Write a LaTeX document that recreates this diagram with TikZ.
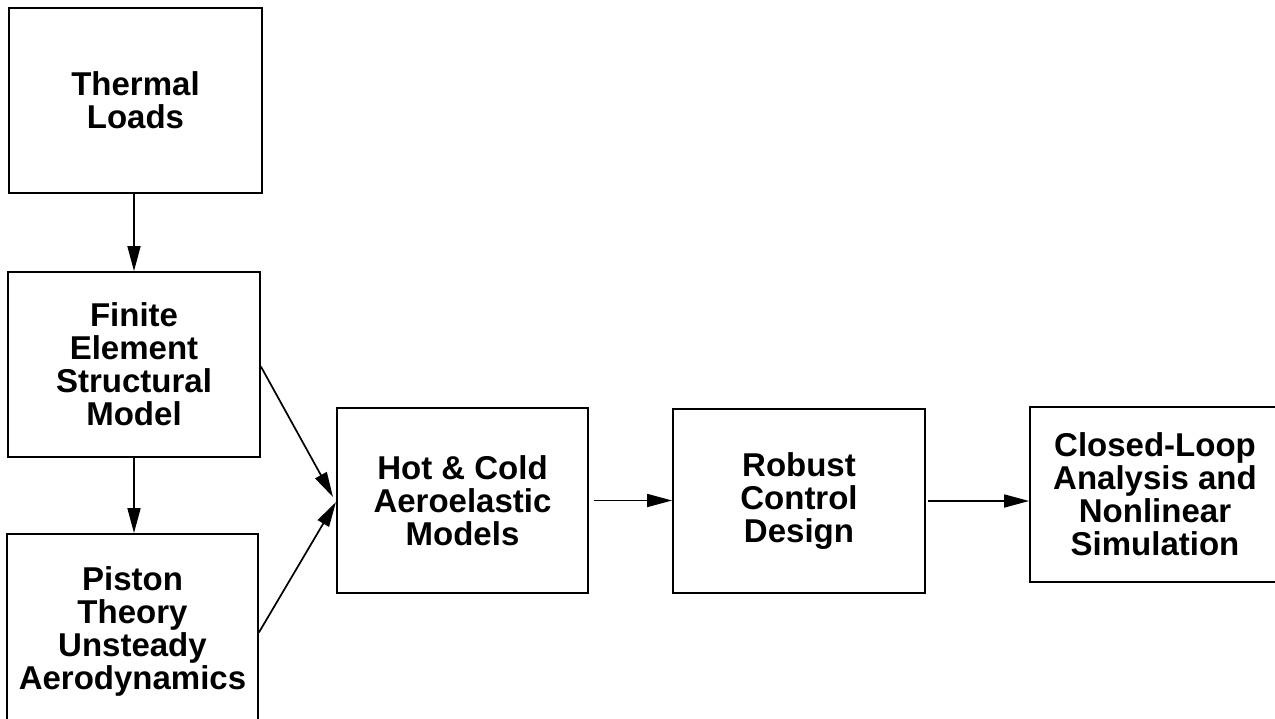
\documentclass[tikz,border=0pt]{standalone}
\usepackage{fontspec}
\setmainfont{Liberation Sans}
\usetikzlibrary{arrows.meta}
\begin{document}
\begin{tikzpicture}[x=1pt,y=-1pt,
  box/.style={draw, line width=1.8pt, align=center, inner sep=0pt,
    font=\fontsize{33}{33}\selectfont\bfseries},
  link/.style={line width=1.7pt, -{Triangle[length=25pt,width=13pt]}}]
\useasboundingbox (0,0) rectangle (1275,719);
\clip (0,0) rectangle (1275,719);

% left column
\node[box, minimum width=253pt, minimum height=185pt] (therm) at (135.5,100.5) {Thermal\\Loads};
\node[box, minimum width=252pt, minimum height=185pt] (fem) at (134,364.5) {Finite\\Element\\Structural\\Model};
\node[box, minimum width=251pt, minimum height=195pt] (piston) at (132.5,631.5) {Piston\\Theory\\Unsteady\\Aerodynamics};

% main chain
\node[box, minimum width=251pt, minimum height=185pt] (hot) at (462.5,500.5) {Hot \& Cold\\Aeroelastic\\Models};
\node[box, minimum width=252pt, minimum height=184pt] (robust) at (799,501) {Robust\\Control\\Design};
\node[box, minimum width=250pt, minimum height=175pt] (closed) at (1155,494.5) {Closed-Loop\\Analysis and\\Nonlinear\\Simulation};

% joining points at the aeroelastic block
\coordinate (tipA) at (333,497);
\coordinate (tipB) at (336,502);

\draw[link] (therm.south -| fem.north) -- (fem.north);
\draw[link] (fem.south) -- (fem.south |- piston.north);
\draw[link] ([yshift=-2pt]fem.east) -- (tipA);
\draw[link] ([yshift=-1pt]piston.east) -- (tipB);
\draw[link] ([xshift=5pt]hot.east) -- (robust.west |- hot.east);
\draw[link] ([xshift=2pt]robust.east) -- (closed.west |- robust.east);
\end{tikzpicture}
\end{document}
